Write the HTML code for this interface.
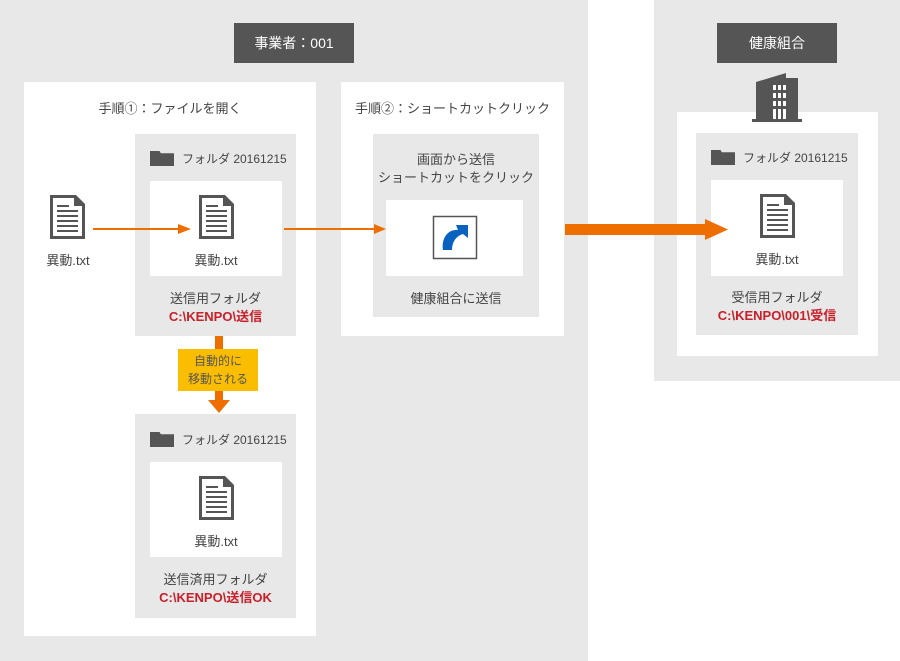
<!DOCTYPE html>
<html><head><meta charset="utf-8"><style>
*{margin:0;padding:0;box-sizing:border-box}
body{width:900px;height:661px;background:#fff;position:relative;overflow:hidden;font-family:"Liberation Sans","Noto Sans CJK JP",sans-serif;color:#444}
.a{position:absolute}
.g{background:#e8e8e8}
.w{background:#fff}
.lab{background:#555;color:#fff;font-size:14px;text-align:center;line-height:40px}
.t{font-size:13px;text-align:center;position:absolute}
.r{color:#c8202a;font-weight:bold}
.fh{position:absolute;font-size:12px;color:#444}
.fh i{display:inline-block;width:24px;height:15px;background:#555;vertical-align:-3px;margin-right:8px;clip-path:polygon(0 0,40% 0,45% 15%,100% 15%,100% 100%,0 100%)}
</style></head><body>
<div class="a g" style="left:0;top:0;width:588px;height:661px"></div>
<div class="a g" style="left:654px;top:0;width:246px;height:381px"></div>
<div class="a lab" style="left:234px;top:23px;width:120px;height:40px">事業者：001</div>
<div class="a lab" style="left:717px;top:23px;width:120px;height:40px">健康組合</div>
<div class="a w" style="left:24px;top:82px;width:292px;height:554px"></div>
<div class="a w" style="left:341px;top:82px;width:223px;height:254px"></div>
<div class="a w" style="left:677px;top:112px;width:201px;height:244px"></div>
<div class="t" style="left:24px;top:98px;width:292px">手順①：ファイルを開く</div>
<div class="t" style="left:341px;top:98px;width:223px">手順②：ショートカットクリック</div>

<svg class="a" style="left:0;top:0" width="900" height="661">
<defs>
<g id="doc"><path d="M0 0H26L35 9V44H0Z" fill="#555"/><path d="M3 3H24V11H32V41H3Z" fill="#fff"/><g fill="#555"><rect x="7" y="10" width="12" height="2"/><rect x="7" y="15" width="21" height="2"/><rect x="7" y="20" width="21" height="2"/><rect x="7" y="25" width="21" height="2"/><rect x="7" y="30" width="21" height="2"/><rect x="7" y="35" width="21" height="2"/></g></g>
</defs>
<use href="#doc" x="50" y="195"/>
<!-- building -->
<g fill="#555"><path d="M756 82L786 73V120H756Z"/><rect x="786" y="78" width="12" height="42"/><rect x="752" y="119" width="50" height="3"/></g>
<g fill="#fff"><rect x="773" y="85" width="3" height="5"/><rect x="778" y="85" width="3" height="5"/><rect x="783" y="85" width="3" height="5"/><rect x="773" y="93" width="3" height="5"/><rect x="778" y="93" width="3" height="5"/><rect x="783" y="93" width="3" height="5"/><rect x="773" y="101" width="3" height="5"/><rect x="778" y="101" width="3" height="5"/><rect x="783" y="101" width="3" height="5"/><rect x="773" y="109" width="3" height="10"/><rect x="778" y="109" width="3" height="10"/><rect x="783" y="109" width="3" height="10"/></g>
</svg>

<!-- folder 1 -->
<div class="a g" style="left:135px;top:134px;width:161px;height:202px"></div>
<div class="fh" style="left:150px;top:150px"><i></i>フォルダ 20161215</div>
<div class="a w" style="left:150px;top:181px;width:132px;height:95px"></div>
<div class="t" style="left:135px;top:290px;width:161px;line-height:18px">送信用フォルダ<br><span class="r">C:\KENPO\送信</span></div>
<!-- folder 2 -->
<div class="a g" style="left:135px;top:414px;width:161px;height:204px"></div>
<div class="fh" style="left:150px;top:431px"><i></i>フォルダ 20161215</div>
<div class="a w" style="left:150px;top:462px;width:132px;height:95px"></div>
<div class="t" style="left:135px;top:571px;width:161px;line-height:18px">送信済用フォルダ<br><span class="r">C:\KENPO\送信OK</span></div>
<!-- box 2 -->
<div class="a g" style="left:373px;top:134px;width:166px;height:183px"></div>
<div class="t" style="left:373px;top:151px;width:166px;line-height:18px">画面から送信<br>ショートカットをクリック</div>
<div class="a w" style="left:386px;top:200px;width:137px;height:76px"></div>
<div class="t" style="left:373px;top:288px;width:166px">健康組合に送信</div>
<!-- right folder -->
<div class="a g" style="left:696px;top:133px;width:162px;height:202px"></div>
<div class="fh" style="left:711px;top:149px"><i></i>フォルダ 20161215</div>
<div class="a w" style="left:711px;top:180px;width:132px;height:96px"></div>
<div class="t" style="left:696px;top:289px;width:162px;line-height:18px">受信用フォルダ<br><span class="r">C:\KENPO\001\受信</span></div>

<div class="a" style="left:178px;top:349px;width:80px;height:42px;background:#fbbd00;font-size:12px;text-align:center;line-height:18px;padding-top:3px;color:#555">自動的に<br>移動される</div>

<svg class="a" style="left:0;top:0" width="900" height="661">
<use href="#doc" x="199" y="195"/>
<use href="#doc" x="199" y="476"/>
<use href="#doc" x="760" y="194"/>
<g fill="#ee6f00">
<rect x="93" y="228" width="85" height="2"/><path d="M178 224L191 229L178 234Z"/>
<rect x="284" y="228" width="90" height="2"/><path d="M374 224L386 229L374 234Z"/>
<rect x="565" y="224" width="140" height="11"/><path d="M705 219L728 229.5L705 240Z"/>
<rect x="215" y="336" width="8" height="13"/><rect x="215" y="391" width="8" height="10"/><path d="M208 400H230L219 413Z"/>
</g>
<rect x="433.5" y="216.5" width="43" height="42" fill="#fff" stroke="#555" stroke-width="1.5"/>
<rect x="436" y="219" width="38" height="37" fill="#fff"/>
<path d="M443 250C441 236 450 229 458 230L456 225H468V238L463 234C456 236 452 242 452 250Z" fill="#0a62c0"/>
</svg>
<div class="t" style="left:40px;top:250px;width:56px">異動.txt</div>
<div class="t" style="left:150px;top:250px;width:132px">異動.txt</div>
<div class="t" style="left:150px;top:531px;width:132px">異動.txt</div>
<div class="t" style="left:711px;top:249px;width:132px">異動.txt</div>
</body></html>
